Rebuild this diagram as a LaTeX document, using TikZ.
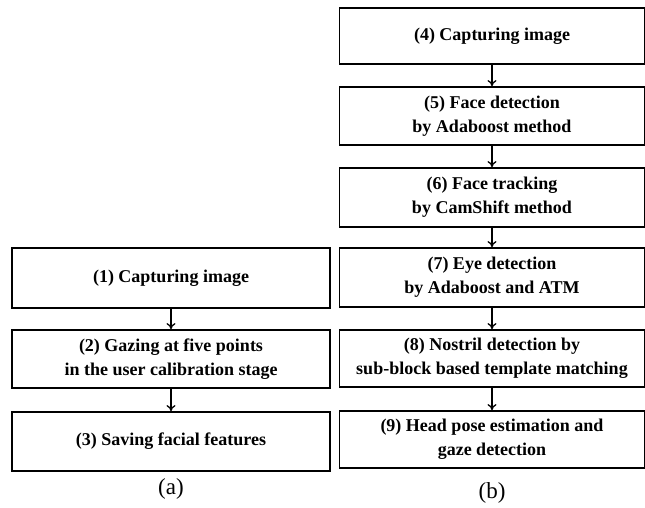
\documentclass[tikz,border=0pt]{standalone}
\usepackage{fontspec}
\setmainfont{Liberation Serif}
\usetikzlibrary{arrows.meta}
\begin{document}
\begin{tikzpicture}[x=1pt,y=-1pt,
  stepbox/.style={draw,line width=1.8pt,inner sep=0pt,align=center,
    font=\fontsize{18}{24}\selectfont\bfseries},
  flow/.style={line width=1.3pt,-{To[length=6pt,width=9pt,line width=1.3pt]}},
  caption/.style={font=\fontsize{23}{26}\selectfont}]
\useasboundingbox (0,0) rectangle (645,508);
% left column (a)
\node[stepbox,minimum width=318pt,minimum height=60pt] (s1) at (171,278) {(1) Capturing image};
\node[stepbox,minimum width=318pt,minimum height=58pt] (s2) at (171,359) {(2) Gazing at five points\\in the user calibration stage};
\node[stepbox,minimum width=318pt,minimum height=59pt] (s3) at (171,441.5) {(3) Saving facial features};
\node[caption] (ca) at (171,489) {(a)};
% right column (b)
\node[stepbox,minimum width=305pt,minimum height=56pt] (s4) at (492,36) {(4) Capturing image};
\node[stepbox,minimum width=305pt,minimum height=58pt] (s5) at (492,116) {(5) Face detection\\by Adaboost method};
\node[stepbox,minimum width=305pt,minimum height=59pt] (s6) at (492,197.5) {(6) Face tracking\\by CamShift method};
\node[stepbox,minimum width=305pt,minimum height=59pt] (s7) at (492,277.5) {(7) Eye detection\\by Adaboost and ATM};
\node[stepbox,minimum width=305pt,minimum height=57pt] (s8) at (492,358.5) {(8) Nostril detection by\\sub-block based template matching};
\node[stepbox,minimum width=305pt,minimum height=57pt] (s9) at (492,439.5) {(9) Head pose estimation and\\gaze detection};
\node[caption] (cb) at (492,493) {(b)};
% connectors
\draw[flow] (s1) -- (s2);
\draw[flow] (s2) -- (s3);
\draw[flow] (s4) -- (s5);
\draw[flow] (s5) -- (s6);
\draw[flow] (s6) -- (s7);
\draw[flow] (s7) -- (s8);
\draw[flow] (s8) -- (s9);
\end{tikzpicture}
\end{document}
